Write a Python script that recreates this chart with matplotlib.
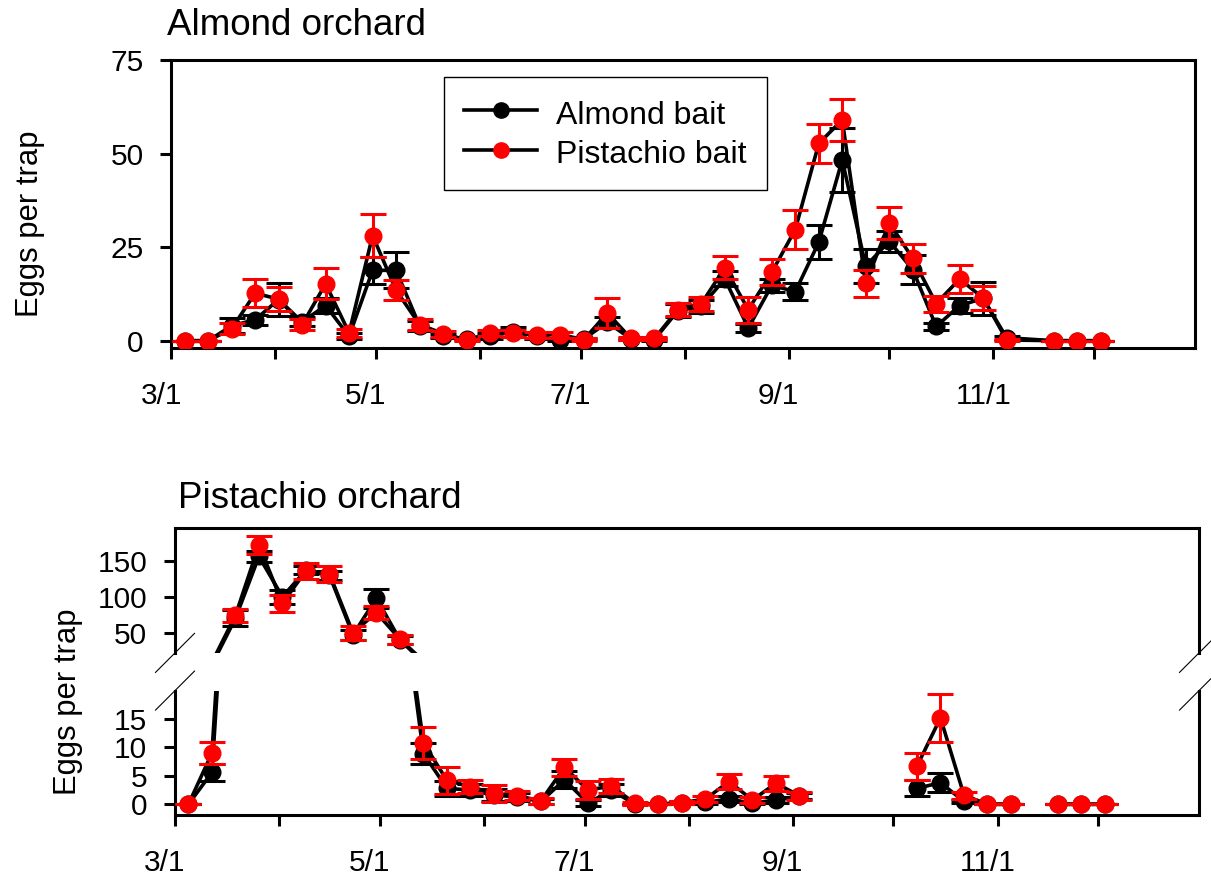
import matplotlib
matplotlib.use('Agg')

import matplotlib.pyplot as plt
from matplotlib.lines import Line2D
from matplotlib.transforms import ScaledTranslation
import numpy as np

plt.rcParams['font.family'] = ['Liberation Sans', 'DejaVu Sans']

nan = np.nan

# sample dates, days after 3/1 (weekly traps)
top_days = [4, 11, 18, 25, 32, 39, 46, 53, 60, 67, 74, 81, 88, 95, 102, 109, 116, 123, 130, 137,
            144, 151, 158, 165, 172, 179, 186, 193, 200, 207, 214, 221, 228, 235, 242, 249,
            263, 270, 277]
bot_days = [4, 11, 18, 25, 32, 39, 46, 53, 60, 67, 74, 81, 88, 95, 102, 109, 116, 123, 130, 137,
            144, 151, 158, 165, 172, 179, 186, 193, 200, 207, 214, 221, 228, 235, 242, 249,
            256, 263, 270, 277]

# almond orchard
almond_orch_almond = [0, 0, 4.0, 5.6, 11.0, 5.0, 9.4, 1.2, 18.8, 18.8, 4.0, 1.2, 0.4, 1.2, 2.4, 1.2,
                      0.1, 0.5, 4.9, 0.5, 0.3, 8.0, 9.2, 16.5, 3.4, 14.8, 13.1, 26.3, 48.3, 19.9,
                      26.6, 19.0, 3.8, 9.4, 11.3, 0.8, 0, 0, 0]
almond_orch_almond_se = [0, 0, 2.0, 1.3, 4.5, 1.2, 2.0, 0.8, 3.6, 4.8, 1.3, 0.6, 0.3, 0.8, 1.3, 0.7,
                         0.3, 0.3, 1.5, 0.3, 0.3, 1.8, 1.8, 2.0, 1.0, 1.8, 2.3, 4.6, 8.6, 4.6,
                         2.8, 3.8, 1.0, 2.0, 4.3, 0.5, 0.2, 0, 0]
almond_orch_pist = [0, 0, 3.2, 12.7, 11.1, 4.3, 15.2, 2.1, 28.1, 13.5, 4.3, 1.9, 0.2, 2.0, 2.0, 1.6,
                    1.6, 0.3, 7.4, 0.6, 0.6, 8.3, 9.9, 19.5, 8.3, 18.3, 29.7, 52.7, 59.0, 15.3,
                    31.5, 22.0, 9.9, 16.5, 11.4, 0.2, 0, 0, 0]
almond_orch_pist_se = [0, 0, 1.5, 3.7, 3.2, 1.5, 4.1, 1.0, 5.8, 2.7, 1.5, 0.8, 0.2, 0.8, 0.9, 0.8,
                       0.8, 0.3, 4.0, 0.4, 0.3, 1.8, 1.9, 3.0, 3.5, 3.5, 5.3, 5.3, 5.7, 3.5,
                       4.3, 3.9, 2.1, 3.8, 3.3, 0.3, 0, 0, 0]

# pistachio orchard
pist_orch_almond = [0, 5.6, 70, 156, 100, 137, 130, 47, 98, 40, 8.9, 2.8, 2.5, 1.6, 1.3, 0.5,
                    4.3, 0.2, 2.5, 0, 0, 0.3, 0.35, 0.9, 0.2, 0.75, 1.5, nan, nan, nan,
                    nan, 2.8, 3.8, 0.5, 0, 0, nan, 0, 0, 0]
pist_orch_almond_se = [0, 1.5, 11, 8, 10, 6, 6, 7, 13, 5, 1.8, 1.3, 1.0, 1.0, 0.7, 0.4,
                       1.5, 0.5, 1.0, 0, 0, 0.2, 0.3, 0.5, 0.2, 0.5, 0.5, nan, nan, nan,
                       nan, 1.4, 1.7, 0.3, 0, 0, nan, 0, 0, 0]
pist_orch_pist = [0, 9.0, 74, 172, 91, 136, 132, 50, 78, 41, 10.8, 4.2, 3.1, 1.9, 1.5, 0.6,
                  6.5, 2.5, 3.2, 0.15, 0, 0.3, 0.9, 4.0, 0.75, 3.7, 1.5, nan, nan, nan,
                  nan, 6.7, 15.2, 1.6, 0, 0, nan, 0, 0, 0]
pist_orch_pist_se = [0, 1.9, 9, 12, 12, 11, 11, 10, 9, 6, 2.8, 2.4, 1.2, 1.5, 0.8, 0.5,
                     1.5, 1.6, 1.3, 0.2, 0, 0.2, 0.5, 1.3, 0.6, 1.3, 0.7, nan, nan, nan,
                     nan, 2.4, 4.2, 0.6, 0, 0, nan, 0, 0, 0]

month_days = [0, 31, 61, 92, 122, 153, 184, 214, 245, 275]
month_labels = ['3/1', '', '5/1', '', '7/1', '', '9/1', '', '11/1', '']

W, H = 1211, 876
fig = plt.figure(figsize=(W / 100, H / 100), dpi=100)

def px_box(left, top, right, bottom):
        return [left / W, 1 - bottom / H, (right - left) / W, (bottom - top) / H]

def style_axes(ax):
        for s in ax.spines.values():
                s.set_linewidth(2.2)
        ax.tick_params(direction='out', length=8, width=2.2, labelsize=21.5, pad=12)
        ax.tick_params(axis='x', pad=16)

def set_dates(ax):
        ax.set_xlim(0, 305)
        ax.set_xticks(month_days)
        ax.set_xticklabels(month_labels)
        # labels sit a little left of their ticks in the original
        offset = ScaledTranslation(-10 / 100, 0, fig.dpi_scale_trans)
        for lab in ax.get_xticklabels():
                lab.set_transform(lab.get_transform() + offset)

def plot_series(ax, days, a, a_se, p, p_se, ymin, ymax):
        # markers/bars only for points inside this axis range (broken axis)
        a = np.array(a, dtype=float)
        p = np.array(p, dtype=float)
        a_in = np.where((a >= ymin) & (a <= ymax), a, nan)
        p_in = np.where((p >= ymin) & (p <= ymax), p, nan)
        ax.errorbar(days, a_in, yerr=a_se, fmt='none', ecolor='black', elinewidth=2.2,
                    capsize=9.7, capthick=2.2, zorder=2)
        ax.plot(days, a, color='black', lw=2.6, zorder=3)
        ax.plot(days, p, color='black', lw=2.6, zorder=3)
        ax.plot(days, a_in, 'o', ms=12, color='black', zorder=4)
        ax.errorbar(days, p_in, yerr=p_se, fmt='none', ecolor='red', elinewidth=2.2,
                    capsize=9.7, capthick=2.2, zorder=5)
        ax.plot(days, p_in, 'o', ms=12, color='red', zorder=6)

# top panel: almond orchard
ax_top = fig.add_axes(px_box(171.3, 60, 1194.5, 348.3))
style_axes(ax_top)
plot_series(ax_top, top_days, almond_orch_almond, almond_orch_almond_se,
            almond_orch_pist, almond_orch_pist_se, -10, 100)
ax_top.set_ylim(-2.03, 75)
ax_top.set_yticks([0, 25, 50, 75])
set_dates(ax_top)

handles = [Line2D([], [], color='black', lw=2.6, marker='o', ms=11, mfc='black', mec='black'),
           Line2D([], [], color='black', lw=2.6, marker='o', ms=11, mfc='red', mec='red')]
leg = ax_top.legend(handles, ['Almond bait', 'Pistachio bait'], loc='upper left',
                    bbox_to_anchor=(0.2665, 0.942), borderaxespad=0, fontsize=23,
                    fancybox=False, edgecolor='black', framealpha=1, handlelength=2.3,
                    handleheight=1.2, handletextpad=0.6, labelspacing=0.17, borderpad=0.62)
leg.get_frame().set_linewidth(1.0)

# bottom panel: pistachio orchard, broken y axis
ax_hi = fig.add_axes(px_box(175, 527.7, 1199, 652.9))
ax_lo = fig.add_axes(px_box(175, 690.6, 1199, 815.3))
for ax, lims in ((ax_hi, (22, 196)), (ax_lo, (-1.94, 20))):
        style_axes(ax)
        plot_series(ax, bot_days, pist_orch_almond, pist_orch_almond_se,
                    pist_orch_pist, pist_orch_pist_se, lims[0], lims[1])
        ax.set_ylim(lims)
        set_dates(ax)

ax_hi.set_yticks([50, 100, 150])
ax_hi.spines['bottom'].set_visible(False)
ax_hi.tick_params(axis='x', bottom=False, labelbottom=False)

ax_lo.set_yticks([0, 5, 10, 15])
ax_lo.spines['top'].set_visible(False)

# break marks
def slash(xc, yc):
        d = 19.5
        fig.add_artist(Line2D([(xc - d) / W, (xc + d) / W], [1 - (yc + d) / H, 1 - (yc - d) / H],
                              color='black', lw=0.8))

for xc in (175, 1199):
        for yc in (652.9, 690.6):
                slash(xc, yc)

# titles and axis labels
fig.text(167 / W, 1 - 35 / H, 'Almond orchard', fontsize=26.5, va='baseline')
fig.text(178 / W, 1 - 508 / H, 'Pistachio orchard', fontsize=26.5, va='baseline')
fig.text(45 / W, 1 - 223.5 / H, 'Eggs per trap', fontsize=22.3, rotation=90,
         ha='right', va='center')
fig.text(83.3 / W, 1 - 701.7 / H, 'Eggs per trap', fontsize=22.3, rotation=90,
         ha='right', va='center')

fig.savefig('out.png', dpi=100)
